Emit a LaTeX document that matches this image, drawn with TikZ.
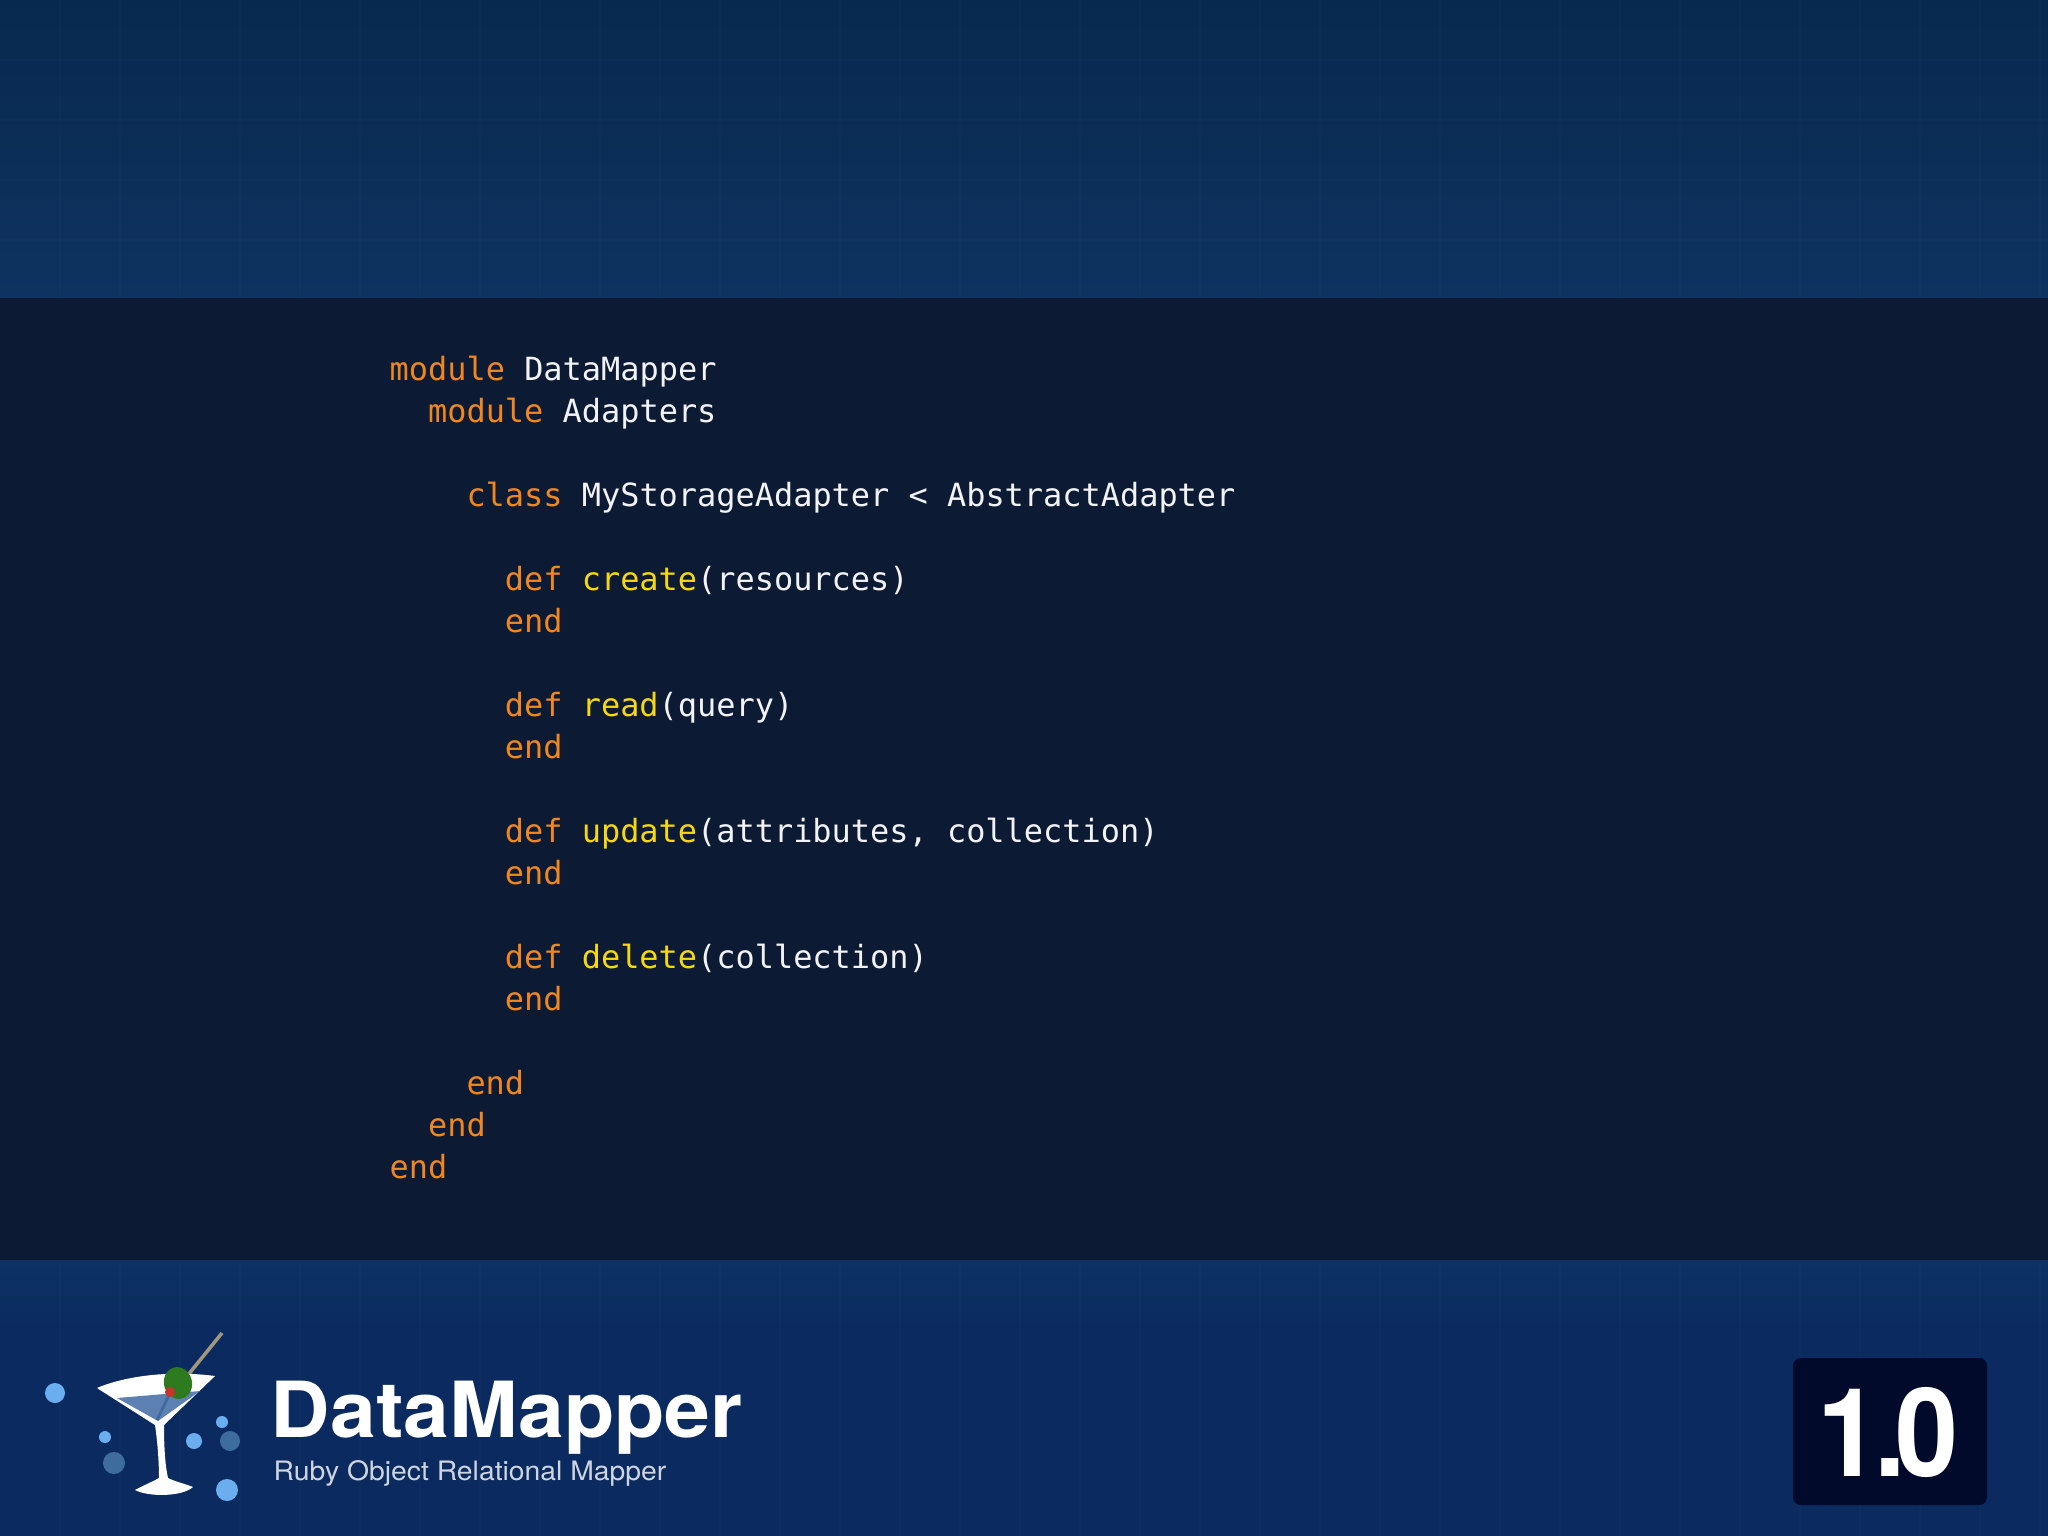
\documentclass[tikz,border=0pt]{standalone}
\usepackage{fontspec}
\setmainfont{TeX Gyre Heros}
\setmonofont{DejaVu Sans Mono}
\definecolor{topblue}{HTML}{08294F}
\definecolor{midblue}{HTML}{0E3360}
\definecolor{panelblue}{HTML}{0D1A33}
\definecolor{footblue}{HTML}{0B2B60}
\definecolor{footedge}{HTML}{0C3162}
\definecolor{badgeblue}{HTML}{020A2C}
\definecolor{kwcolor}{HTML}{F0871C}
\definecolor{fncolor}{HTML}{F6D80E}
\definecolor{codecolor}{HTML}{F1F3F6}
\definecolor{liquid}{HTML}{5D80B2}
\definecolor{bubblelight}{HTML}{6AAEF0}
\definecolor{bubbledark}{HTML}{3F6C9F}
\definecolor{olive}{HTML}{2E7A1F}
\definecolor{pimento}{HTML}{C8332A}
\definecolor{toothpick}{HTML}{A3967F}
\newcommand{\kw}[1]{\textcolor{kwcolor}{#1}}
\newcommand{\fn}[1]{\textcolor{fncolor}{#1}}
\newcommand{\codeline}[4]{%
 \node[codetext] ({#1}) at ({389+19.2*#2},{380+42*#3}) {#4};%
}
\newcommand{\bubble}[4]{%
 \fill[#4] (#1,#2) circle (#3);%
}
\tikzset{
 codetext/.style={anchor=base west,inner sep=0pt,text=codecolor,font=\ttfamily\fontsize{9.08}{11}\selectfont},
 glass/.style={fill=white,draw=none}
}
\begin{document}
\begin{tikzpicture}[x=0.01cm,y=-0.01cm]
  \useasboundingbox (0,0) rectangle (2048,1536);
  \shade[top color=topblue,bottom color=midblue] (0,0) rectangle (2048,298);
  \shade[top color=footedge,bottom color=footblue] (0,1260) rectangle (2048,1330);
  \fill[footblue] (0,1330) rectangle (2048,1536);
  \foreach \x in {60,120,...,2040} {
   \draw[white,opacity=.012,line width=.5pt] (\x,0) -- (\x,298);
   \draw[white,opacity=.01,line width=.5pt] (\x,1260) -- (\x,1536);
  }
  \foreach \y in {60,120,...,240} \draw[white,opacity=.012,line width=.5pt] (0,\y) -- (2048,\y);
  \fill[panelblue] (0,298) rectangle (2048,1260);
  % code
  \codeline{l0}{0}{0}{\kw{module} DataMapper}
  \codeline{l1}{2}{1}{\kw{module} Adapters}
  \codeline{l3}{4}{3}{\kw{class} MyStorageAdapter < AbstractAdapter}
  \codeline{l5}{6}{5}{\kw{def} \fn{create}(resources)}
  \codeline{l6}{6}{6}{\kw{end}}
  \codeline{l8}{6}{8}{\kw{def} \fn{read}(query)}
  \codeline{l9}{6}{9}{\kw{end}}
  \codeline{l11}{6}{11}{\kw{def} \fn{update}(attributes, collection)}
  \codeline{l12}{6}{12}{\kw{end}}
  \codeline{l14}{6}{14}{\kw{def} \fn{delete}(collection)}
  \codeline{l15}{6}{15}{\kw{end}}
  \codeline{l17}{4}{17}{\kw{end}}
  \codeline{l18}{2}{18}{\kw{end}}
  \codeline{l19}{0}{19}{\kw{end}}
  % logo
  \draw[toothpick,line width=1pt] (188,1375) -- (222,1333);
  \fill[glass] (97,1388) .. controls (125,1376) and (170,1370) .. (215,1376) -- (164,1425)
    .. controls (164,1445) and (165,1465) .. (168,1478) .. controls (176,1482) and (186,1484) .. (193,1487)
    .. controls (182,1497) and (148,1497) .. (135,1490) .. controls (142,1486) and (152,1482) .. (159,1478)
    .. controls (159,1465) and (158,1445) .. (155,1425) -- cycle;
  \fill[liquid] (117,1398) -- (200,1391) -- (158,1421) -- cycle;
  \draw[bubbledark,line width=.8pt] (157,1420) -- (170,1393);
  \fill[olive] (178,1383) [rotate around={15:(178,1383)}] ellipse (14 and 16);
  \fill[pimento] (170,1392) circle (5);
  \bubble{55}{1393}{10}{bubblelight}
  \bubble{105}{1437}{6}{bubblelight}
  \bubble{114}{1463}{11}{bubbledark}
  \bubble{194}{1441}{8}{bubblelight}
  \bubble{222}{1422}{6}{bubblelight}
  \bubble{230}{1441}{10}{bubbledark}
  \bubble{227}{1490}{11}{bubblelight}
  \node[anchor=base west,inner sep=0pt,text=white,font=\bfseries\fontsize{22}{22}\selectfont,xscale=1.065] (title) at (270,1437) {DataMapper};
  \node[anchor=base west,inner sep=0pt,text=white!80!footblue,font=\fontsize{7.6}{9}\selectfont,xscale=1.06] (subtitle) at (273,1480) {Ruby Object Relational Mapper};
  % version
  \node[fill=badgeblue,rounded corners=2.2pt,minimum width=194*0.01cm,minimum height=147*0.01cm,inner sep=0pt] (badge) at (1890,1431.5) {};
  \node[anchor=base,inner sep=0pt,text=white,font=\bfseries\fontsize{35}{35}\selectfont,xscale=.92] (version) at (1888,1476) {1\kern-.05em.\kern-.09em0};
\end{tikzpicture}
\end{document}
